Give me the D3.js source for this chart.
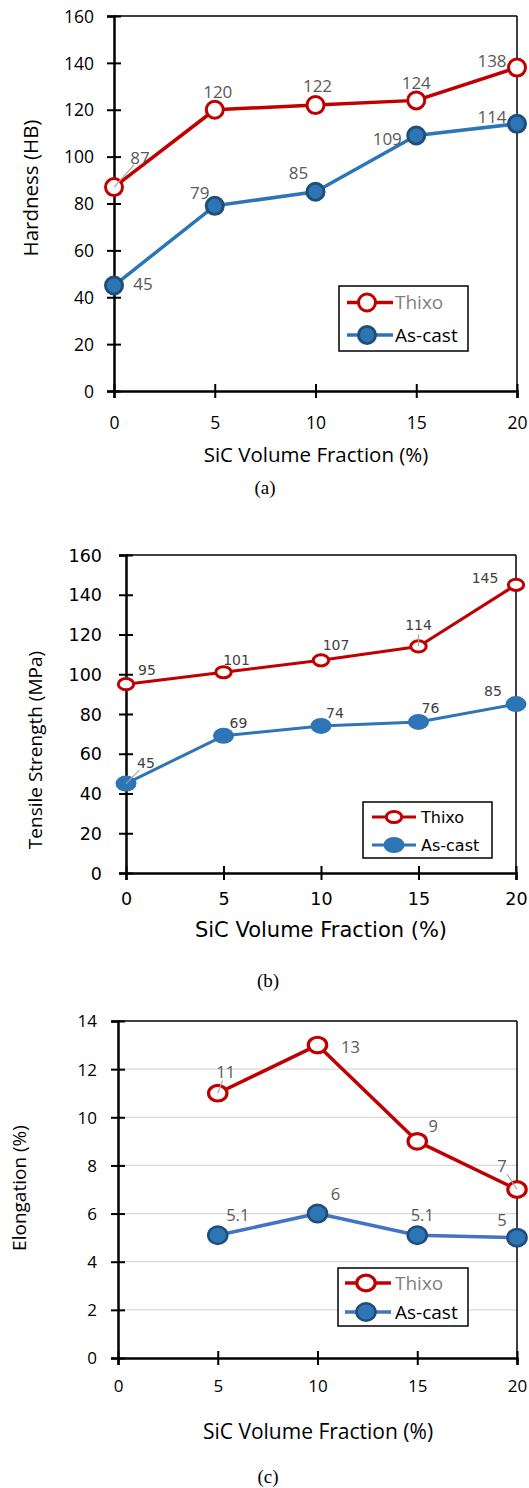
<!DOCTYPE html>
<html>
<head>
<meta charset="utf-8">
<script src="https://cdnjs.cloudflare.com/ajax/libs/d3/7.8.5/d3.min.js"></script>
<style>
  html, body { margin: 0; padding: 0; background: #fff; }
  svg { display: block; }
</style>
</head>
<body>
<div id="chart"></div>
<script>
// data
const fractions = [0, 5, 10, 15, 20];
const hardThixo = [87, 120, 122, 124, 138];
const hardCast = [45, 79, 85, 109, 114];
const tensThixo = [95, 101, 107, 114, 145];
const tensCast = [45, 69, 74, 76, 85];
const elongFractions = [5, 10, 15, 20];
const elongThixo = [11, 13, 9, 7];
const elongCast = [5.1, 6, 5.1, 5];
const xTicks = [0, 5, 10, 15, 20];
const hardTicks = [0, 20, 40, 60, 80, 100, 120, 140, 160];
const tensTicks = [0, 20, 40, 60, 80, 100, 120, 140, 160];
const elongTicks = [0, 2, 4, 6, 8, 10, 12, 14];
const seriesNames = ["Thixo", "As-cast"];

const RED = "#C00000";
const BLUE = "#2E75B6";
const DARK = "#1F4E79";

const svg = d3.select("#chart").append("svg")
    .attr("width", 529)
    .attr("height", 1488);

// panel layouts
const panels = [
  {
    x: fractions, thixo: hardThixo, cast: hardCast, yTicks: hardTicks, yMax: 160,
    left: 114, right: 517, top: 16, bottom: 391,
    tickFont: "'Open Sans'", tickSize: 17.5, tickGap: 20, xTickY: 32,
    yTitle: "Hardness (HB)", yTitleX: 31, yTitleY: 188, yTitleSize: 20.5,
    xTitle: "SiC Volume Fraction (%)", xTitleFont: "'Open Sans'", xTitleSize: 20.5, xTitleX: 316, xTitleY: 455,
    caption: "(a)", capX: 265, capY: 487,
    labFont: "'Open Sans'", labSize: 17, labColor: "#595959",
    lineW: 3.5, castLine: BLUE,
    thixoM: {rx: 8.5, ry: 8.5, sw: 3}, castM: {rx: 8.5, ry: 8.5, sw: 3, stroke: DARK},
    thixoOff: [[26, -29], [3, -18], [2, -19], [0, -17], [-25, -7]],
    castOff: [[29, -1], [-15, -13], [-17, -19], [-29, 4], [-25, -7]],
    thixoLeader: [0], castLeader: [],
    grid: false,
    leg: {x0: 339, x1: 468, y0: 286, y1: 351, rows: [302.5, 335], l0: 347, l1: 393, m: 367, tx: 395,
          font: "'Open Sans'", size: 19, colors: ["#7f7f7f", "#000"]}
  },
  {
    x: fractions, thixo: tensThixo, cast: tensCast, yTicks: tensTicks, yMax: 160,
    left: 126, right: 516, top: 555, bottom: 873,
    tickFont: "'DejaVu Sans'", tickSize: 17.5, tickGap: 24, xTickY: 26,
    yTitle: "Tensile Strength (MPa)", yTitleX: 35, yTitleY: 750, yTitleSize: 19,
    xTitle: "SiC Volume Fraction (%)", xTitleFont: "'DejaVu Sans'", xTitleSize: 21, xTitleX: 321, xTitleY: 930,
    caption: "(b)", capX: 268, capY: 980,
    labFont: "'DejaVu Sans'", labSize: 14, labColor: "#404040",
    lineW: 3, castLine: BLUE,
    thixoM: {rx: 7.7, ry: 5.6, sw: 3}, castM: {rx: 10.5, ry: 8, sw: 0, stroke: BLUE},
    thixoOff: [[21, -14], [13, -12], [15, -15], [0, -21], [-31, -7]],
    castOff: [[20, -20], [15, -13], [14, -13], [12, -14], [-23, -13]],
    thixoLeader: [3], castLeader: [0],
    grid: false,
    leg: {x0: 363, x1: 492, y0: 802, y1: 858, rows: [817, 845], l0: 372, l1: 416, m: 394, tx: 421,
          font: "'DejaVu Sans'", size: 16, colors: ["#000", "#000"]}
  },
  {
    x: elongFractions, thixo: elongThixo, cast: elongCast, yTicks: elongTicks, yMax: 14,
    left: 118, right: 517, top: 1021, bottom: 1358,
    tickFont: "'Open Sans'", tickSize: 17, tickGap: 21, xTickY: 28,
    yTitle: "Elongation (%)", yTitleX: 19, yTitleY: 1188, yTitleSize: 19,
    xTitle: "SiC Volume Fraction (%)", xTitleFont: "'Open Sans'", xTitleSize: 21, xTitleX: 318, xTitleY: 1432,
    caption: "(c)", capX: 268, capY: 1476,
    labFont: "'Open Sans'", labSize: 16.5, labColor: "#595959",
    lineW: 3.5, castLine: "#4472C4",
    thixoM: {rx: 9.2, ry: 7.8, sw: 3.2}, castM: {rx: 9.5, ry: 8.7, sw: 2.6, stroke: DARK},
    thixoOff: [[8, -21], [33, 2], [16, -15], [-15, -23]],
    castOff: [[20, -20], [18, -19], [5, -20], [-15, -17]],
    thixoLeader: [0, 3], castLeader: [],
    grid: true,
    leg: {x0: 338, x1: 468, y0: 1268, y1: 1326, rows: [1283, 1312], l0: 345, l1: 391, m: 366, tx: 395,
          font: "'Open Sans'", size: 19, colors: ["#7f7f7f", "#000"]}
  }
];

function marker(g, cx, cy, m, fill, stroke) {
  g.append("ellipse")
    .attr("cx", cx).attr("cy", cy)
    .attr("rx", m.rx).attr("ry", m.ry)
    .attr("fill", fill)
    .attr("stroke", stroke)
    .attr("stroke-width", m.sw);
}

function drawPanel(p) {
  const g = svg.append("g");
  const x = d3.scaleLinear().domain([0, 20]).range([p.left, p.right]);
  const y = d3.scaleLinear().domain([0, p.yMax]).range([p.bottom, p.top]);

  // light gridlines (panel c only)
  if (p.grid) {
    g.append("g").selectAll("line")
      .data(p.yTicks.filter(t => t > 0 && t < p.yMax))
      .enter().append("line")
      .attr("x1", p.left).attr("x2", p.right)
      .attr("y1", d => y(d)).attr("y2", d => y(d))
      .attr("stroke", "#d9d9d9").attr("stroke-width", 1.3);
  }

  // frame: thin top and right
  g.append("line").attr("x1", p.left).attr("x2", p.right).attr("y1", p.top).attr("y2", p.top)
    .attr("stroke", "#000").attr("stroke-width", 1.5);
  g.append("line").attr("x1", p.right).attr("x2", p.right).attr("y1", p.top).attr("y2", p.bottom)
    .attr("stroke", "#000").attr("stroke-width", 1.5);

  // y axis with crossing ticks
  const ya = g.append("g")
    .attr("transform", `translate(${p.left},0)`)
    .call(d3.axisLeft(y).tickValues(p.yTicks).tickSizeOuter(0).tickSize(7));
  ya.select(".domain").attr("stroke", "#000").attr("stroke-width", 2.5);
  ya.selectAll(".tick line").attr("x1", 7).attr("x2", -7).attr("stroke", "#000").attr("stroke-width", 2);
  ya.selectAll(".tick text")
    .attr("x", -p.tickGap).attr("dy", "0.35em")
    .style("font-family", p.tickFont).style("font-size", p.tickSize + "px").attr("fill", "#000");

  // x axis
  const xa = g.append("g")
    .attr("transform", `translate(0,${p.bottom})`)
    .call(d3.axisBottom(x).tickValues(xTicks).tickSizeOuter(0).tickSize(7));
  xa.select(".domain").attr("stroke", "#000").attr("stroke-width", 2.5);
  xa.selectAll(".tick line").attr("y1", -7).attr("y2", 7).attr("stroke", "#000").attr("stroke-width", 2);
  xa.selectAll(".tick text")
    .attr("y", p.xTickY).attr("dy", "0.35em")
    .style("font-family", p.tickFont).style("font-size", p.tickSize + "px").attr("fill", "#000");

  // titles
  g.append("text")
    .attr("transform", `translate(${p.yTitleX},${p.yTitleY}) rotate(-90)`)
    .attr("text-anchor", "middle").attr("dy", "0.35em")
    .style("font-family", "'Open Sans'").style("font-size", p.yTitleSize + "px")
    .text(p.yTitle);
  g.append("text")
    .attr("x", p.xTitleX).attr("y", p.xTitleY)
    .attr("text-anchor", "middle").attr("dy", "0.35em")
    .style("font-family", p.xTitleFont).style("font-size", p.xTitleSize + "px")
    .text(p.xTitle);
  g.append("text")
    .attr("x", p.capX).attr("y", p.capY)
    .attr("text-anchor", "middle").attr("dy", "0.35em")
    .style("font-family", "'Liberation Serif'").style("font-size", "19px")
    .text(p.caption);

  const line = d3.line().x(d => x(d[0])).y(d => y(d[1]));
  const thixoPts = p.x.map((v, i) => [v, p.thixo[i]]);
  const castPts = p.x.map((v, i) => [v, p.cast[i]]);

  const series = [
    {pts: castPts, color: p.castLine, m: p.castM, fill: BLUE, off: p.castOff, lead: p.castLeader},
    {pts: thixoPts, color: RED, m: p.thixoM, fill: "#fff", off: p.thixoOff, lead: p.thixoLeader}
  ];

  series.forEach(s => {
    g.append("path").datum(s.pts)
      .attr("d", line).attr("fill", "none")
      .attr("stroke", s.color).attr("stroke-width", p.lineW)
      .attr("stroke-linejoin", "round");
  });

  series.forEach(s => {
    const stroke = s.fill === "#fff" ? RED : s.m.stroke;
    s.pts.forEach(d => marker(g, x(d[0]), y(d[1]), s.m, s.fill, stroke));
    // leader lines to the moved labels
    s.lead.forEach(i => {
      const d = s.pts[i], o = s.off[i];
      const len = Math.hypot(o[0], o[1]);
      const k = (len - 9) / len;
      g.append("line")
        .attr("x1", x(d[0])).attr("y1", y(d[1]))
        .attr("x2", x(d[0]) + o[0] * k).attr("y2", y(d[1]) + o[1] * k)
        .attr("stroke", "#a6a6a6").attr("stroke-width", 1.2);
    });
    g.append("g").selectAll("text")
      .data(s.pts)
      .enter().append("text")
      .attr("x", (d, i) => x(d[0]) + s.off[i][0])
      .attr("y", (d, i) => y(d[1]) + s.off[i][1])
      .attr("text-anchor", "middle").attr("dy", "0.35em")
      .style("font-family", p.labFont).style("font-size", p.labSize + "px")
      .attr("fill", p.labColor)
      .text(d => d[1]);
  });

  // legend
  const L = p.leg;
  g.append("rect")
    .attr("x", L.x0).attr("y", L.y0)
    .attr("width", L.x1 - L.x0).attr("height", L.y1 - L.y0)
    .attr("fill", "#fff").attr("stroke", "#000").attr("stroke-width", 1.5);
  seriesNames.forEach((name, i) => {
    const s = i === 0 ? series[1] : series[0];
    const cy = L.rows[i];
    g.append("line")
      .attr("x1", L.l0).attr("x2", L.l1).attr("y1", cy).attr("y2", cy)
      .attr("stroke", s.color).attr("stroke-width", p.lineW);
    const stroke = s.fill === "#fff" ? RED : s.m.stroke;
    marker(g, L.m, cy, s.m, s.fill, stroke);
    g.append("text")
      .attr("x", L.tx).attr("y", cy).attr("dy", "0.35em")
      .style("font-family", L.font).style("font-size", L.size + "px")
      .attr("fill", L.colors[i])
      .text(name);
  });
}

panels.forEach(drawPanel);
</script>
</body>
</html>
